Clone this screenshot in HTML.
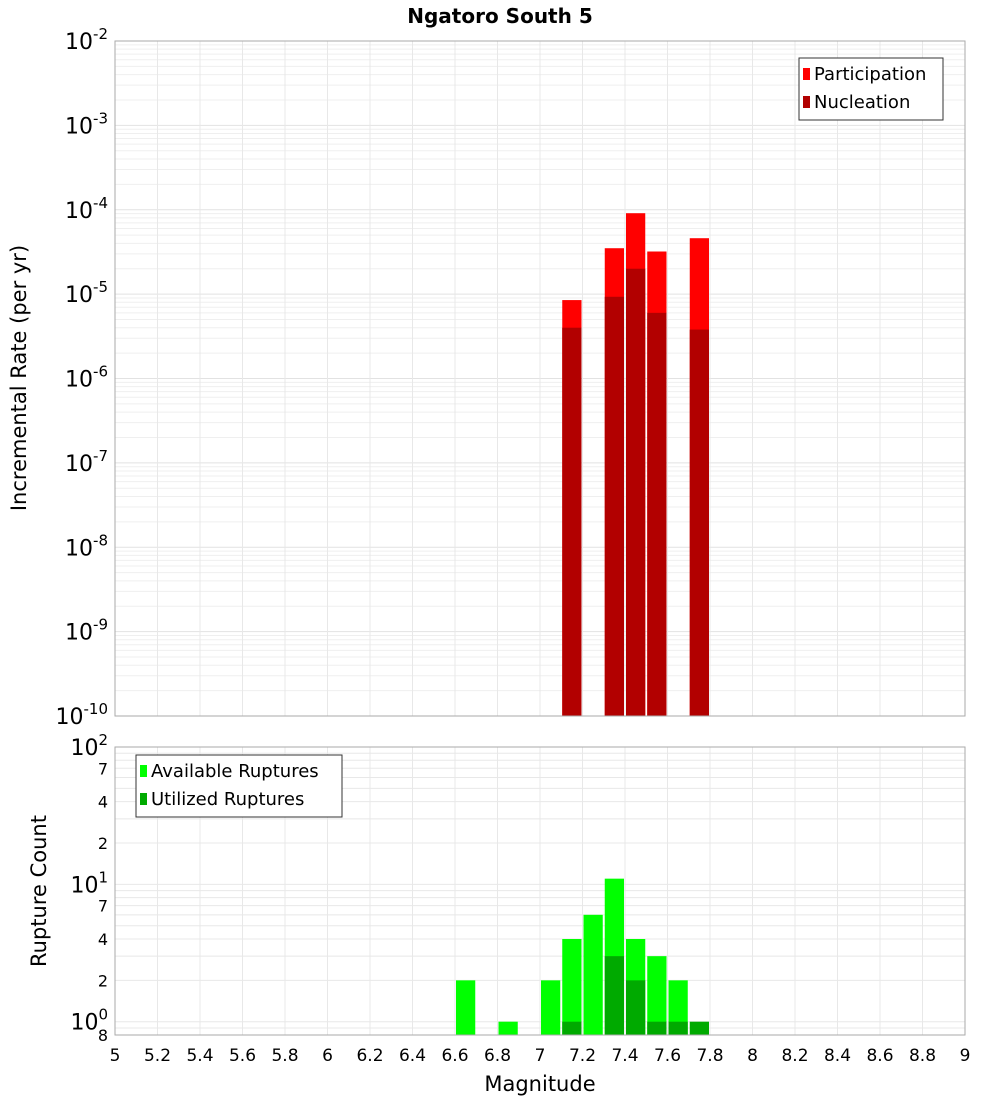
<!DOCTYPE html>
<html><head><meta charset="utf-8"><style>
body{margin:0;background:#fff;width:1000px;height:1100px;overflow:hidden}
svg text{font-family:"DejaVu Sans","Liberation Sans",sans-serif}
</style></head><body>
<svg id="chart" width="1000" height="1100" xmlns="http://www.w3.org/2000/svg">
<text x="500" y="23" text-anchor="middle" font-size="20" font-weight="bold">Ngatoro South 5</text>
<g id="topPlot"></g>
<g id="botPlot"></g>
<text transform="translate(26,378) rotate(-90)" text-anchor="middle" font-size="21">Incremental Rate (per yr)</text>
<text transform="translate(46,891) rotate(-90)" text-anchor="middle" font-size="21">Rupture Count</text>
<text x="540" y="1091" text-anchor="middle" font-size="21">Magnitude</text>
</svg>
<script>
const mags=[7.15,7.35,7.45,7.55,7.75];
const participation=[8.5e-6,3.5e-5,9.1e-5,3.2e-5,4.6e-5];
const nucleation=[4e-6,9.3e-6,2.0e-5,6e-6,3.8e-6];
const countMags=[6.65,6.85,7.05,7.15,7.25,7.35,7.45,7.55,7.65,7.75];
const available=[2,1,2,4,6,11,4,3,2,0];
const utilizedMags=[7.15,7.35,7.45,7.55,7.65,7.75];
const utilized=[1,3,2,1,1,1];
const xTicks=[5,5.2,5.4,5.6,5.8,6,6.2,6.4,6.6,6.8,7,7.2,7.4,7.6,7.8,8,8.2,8.4,8.6,8.8,9];
const topExps=[-2,-3,-4,-5,-6,-7,-8,-9,-10];
const botTickVals=[100,70,40,20,10,7,4,2,1,0.8];
const botTickLabels=["10|2","7","4","2","10|1","7","4","2","10|0","8"];

const NS="http://www.w3.org/2000/svg";
const X0=115,X1=965;
const xs=m=>X0+(m-5)/4*(X1-X0);
const T0=41,T1=716;
const yT=v=>T0+(-2-Math.log10(v))/8*(T1-T0);
const B0=747,B1=1035;
const yB=v=>B0+(2-Math.log10(v))/(2-Math.log10(0.8))*(B1-B0);
function el(p,t,a){const e=document.createElementNS(NS,t);for(const k in a)e.setAttribute(k,a[k]);p.appendChild(e);return e;}
const topG=document.getElementById('topPlot'),botG=document.getElementById('botPlot');
for(let d=-10;d<-2;d++)for(let k=1;k<10;k++){const v=k*Math.pow(10,d);
 const g=el(topG,'line',{x1:X0,x2:X1,y1:yT(v),y2:yT(v),stroke:k==1?'#e2e2e2':'#efefef','stroke-width':1});
 
 }
for(let d=-1;d<2;d++)for(let k=1;k<10;k++){const v=k*Math.pow(10,d);if(v<0.8)continue;
 const g=el(botG,'line',{x1:X0,x2:X1,y1:yB(v),y2:yB(v),stroke:'#e8e8e8','stroke-width':1});
 
 }
xTicks.forEach(t=>{[topG,botG].forEach((p,i)=>{const g=el(p,'line',{x1:xs(t),x2:xs(t),y1:i?B0:T0,y2:i?B1:T1,stroke:'#e8e8e8'});
 
 });
 const tx=el(botG,'text',{x:xs(t),y:1061,'text-anchor':'middle','font-size':17});tx.textContent=t;
 
 });
mags.forEach((m,i)=>{
 const w=xs(m+0.05)-xs(m-0.05)-2;
 const r=el(topG,'rect',{x:xs(m-0.05)+1,width:w,y:yT(participation[i]),height:T1-yT(participation[i]),fill:'#ff0000'});
 
 
 const n=el(topG,'rect',{x:xs(m-0.05)+1,width:w,y:yT(nucleation[i]),height:T1-yT(nucleation[i]),fill:'#b20000'});
 
 });
countMags.forEach((m,i)=>{if(available[i]<=0)return;
 const r=el(botG,'rect',{x:xs(m-0.05)+1,width:xs(m+0.05)-xs(m-0.05)-2,y:yB(available[i]),height:B1-yB(available[i]),fill:'#00ff00'});
 
 });
utilizedMags.forEach((m,i)=>{
 const r=el(botG,'rect',{x:xs(m-0.05)+1,width:xs(m+0.05)-xs(m-0.05)-2,y:yB(utilized[i]),height:B1-yB(utilized[i]),fill:'#00aa00'});
 
 });
[[T0,T1,topG],[B0,B1,botG]].forEach(([a,b,p])=>{const f=el(p,'rect',{x:X0,y:a,width:X1-X0,height:b-a,fill:'none',stroke:'#aaa'});
 
 });
topExps.forEach(e=>{const t=el(topG,'text',{x:108,y:yT(Math.pow(10,e))+8,'text-anchor':'end','font-size':22});
 
 
 t.innerHTML='10<tspan dy="-10" font-size="15">'+e+'</tspan>';});
botTickVals.forEach((v,i)=>{const lab=botTickLabels[i];const big=lab.includes('|');
 const t=el(botG,'text',{x:108,y:yB(v)+(big?8:6),'text-anchor':'end','font-size':big?22:16});
 
 
 if(big){const [b,e]=lab.split('|');t.innerHTML=b+'<tspan dy="-10" font-size="15">'+e+'</tspan>';}else t.textContent=lab;});
function legend(p,x0,y0,w,items){const g=el(p,'g',{});
 
 
 el(g,'rect',{x:x0,y:y0,width:w,height:items.length*28+6,fill:'#fff',stroke:'#333'});
 items.forEach(([c,l],i)=>{const s=el(g,'rect',{x:x0+4,y:y0+10+i*28,width:7,height:12,fill:c});
 
 
 const t=el(g,'text',{x:x0+15,y:y0+22+i*28,'font-size':18});t.textContent=l;
 
 });}
legend(topG,799,58,144,[['#ff0000','Participation'],['#b20000','Nucleation']]);
legend(botG,136,755,206,[['#00ff00','Available Ruptures'],['#00aa00','Utilized Ruptures']]);
</script>
</body></html>
